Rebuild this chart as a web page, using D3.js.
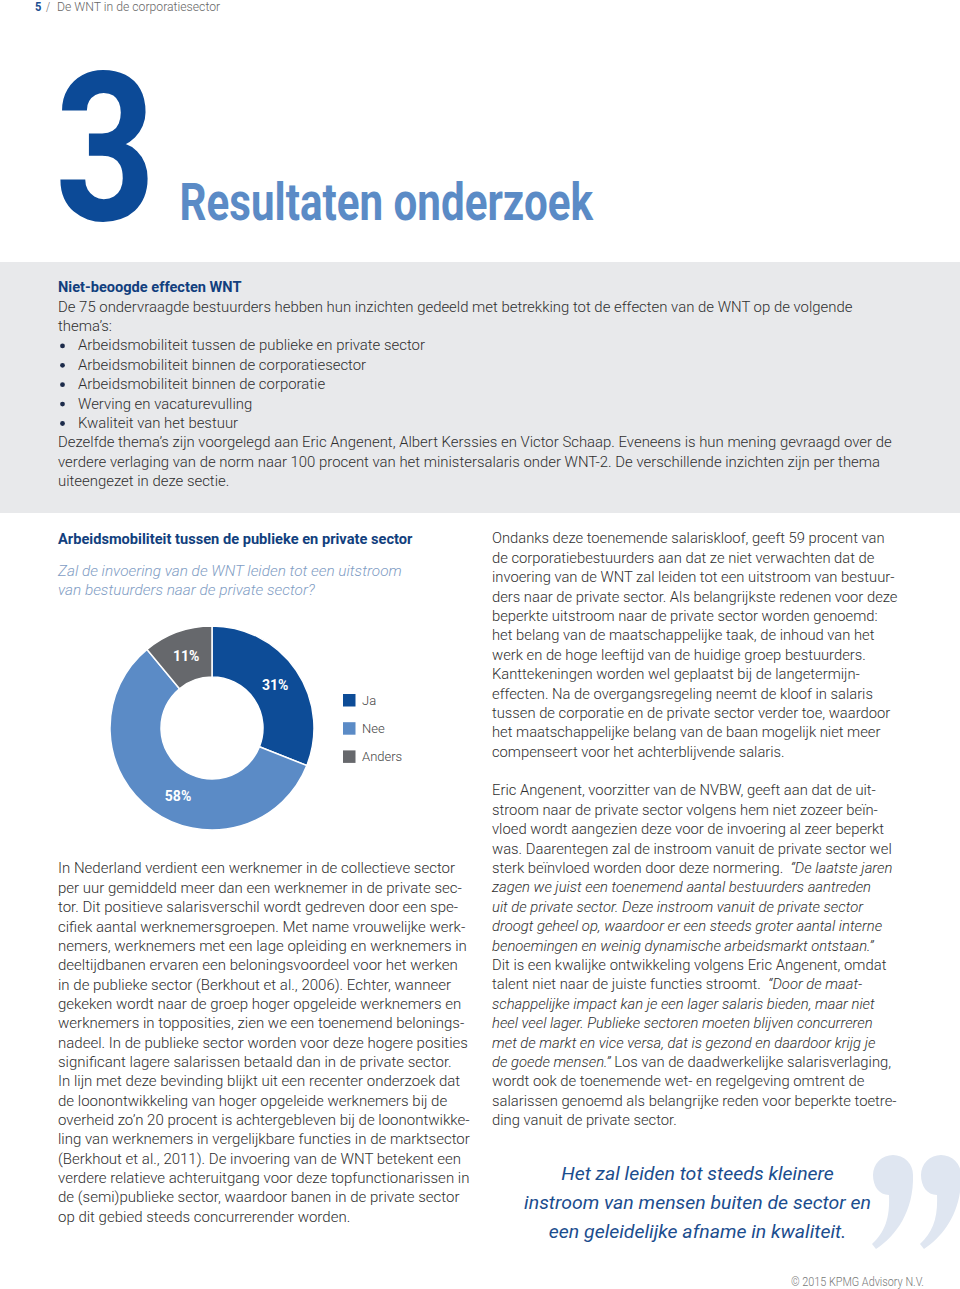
<!DOCTYPE html>
<html>
<head>
<meta charset="utf-8">
<script src="https://cdn.jsdelivr.net/npm/d3@7/dist/d3.min.js"></script>
<style>
html,body{margin:0;padding:0;background:#fff;}
svg{display:block;}
</style>
</head>
<body>
<svg id="page" width="960" height="1289"></svg>
<script>
// ---------- DATA ----------
const categories = ["Ja", "Nee", "Anders"];
const values = [31, 58, 11];
const labels = ["31%", "58%", "11%"];
const sliceColors = ["#0d4c97", "#5b8bc6", "#66686c"];

const headerPage = "5";
const headerTitle = "De WNT in de corporatiesector";
const chapterNumber = "3";
const chapterTitle = "Resultaten onderzoek";

const boxHeading = "Niet-beoogde effecten WNT";
const boxLines = [
  {t: "De 75 ondervraagde bestuurders hebben hun inzichten gedeeld met betrekking tot de effecten van de WNT op de volgende"},
  {t: "thema’s:"},
  {t: "Arbeidsmobiliteit tussen de publieke en private sector", b: true},
  {t: "Arbeidsmobiliteit binnen de corporatiesector", b: true},
  {t: "Arbeidsmobiliteit binnen de corporatie", b: true},
  {t: "Werving en vacaturevulling", b: true},
  {t: "Kwaliteit van het bestuur", b: true},
  {t: "Dezelfde thema’s zijn voorgelegd aan Eric Angenent, Albert Kerssies en Victor Schaap. Eveneens is hun mening gevraagd over de"},
  {t: "verdere verlaging van de norm naar 100 procent van het ministersalaris onder WNT-2. De verschillende inzichten zijn per thema"},
  {t: "uiteengezet in deze sectie."}
];

const chartHeading = "Arbeidsmobiliteit tussen de publieke en private sector";
const chartQuestion = [
  "Zal de invoering van de WNT leiden tot een uitstroom",
  "van bestuurders naar de private sector?"
];

const leftPara = [
  "In Nederland verdient een werknemer in de collectieve sector",
  "per uur gemiddeld meer dan een werknemer in de private sec-",
  "tor. Dit positieve salarisverschil wordt gedreven door een spe-",
  "cifiek aantal werknemersgroepen. Met name vrouwelijke werk-",
  "nemers, werknemers met een lage opleiding en werknemers in",
  "deeltijdbanen ervaren een beloningsvoordeel voor het werken",
  "in de publieke sector (Berkhout et al., 2006). Echter, wanneer",
  "gekeken wordt naar de groep hoger opgeleide werknemers en",
  "werknemers in topposities, zien we een toenemend belonings-",
  "nadeel. In de publieke sector worden voor deze hogere posities",
  "significant lagere salarissen betaald dan in de private sector.",
  "In lijn met deze bevinding blijkt uit een recenter onderzoek dat",
  "de loonontwikkeling van hoger opgeleide werknemers bij de",
  "overheid zo’n 20 procent is achtergebleven bij de loonontwikke-",
  "ling van werknemers in vergelijkbare functies in de marktsector",
  "(Berkhout et al., 2011). De invoering van de WNT betekent een",
  "verdere relatieve achteruitgang voor deze topfunctionarissen in",
  "de (semi)publieke sector, waardoor banen in de private sector",
  "op dit gebied steeds concurrerender worden."
];

const rightPara1 = [
  "Ondanks deze toenemende salariskloof, geeft 59 procent van",
  "de corporatiebestuurders aan dat ze niet verwachten dat de",
  "invoering van de WNT zal leiden tot een uitstroom van bestuur-",
  "ders naar de private sector. Als belangrijkste redenen voor deze",
  "beperkte uitstroom naar de private sector worden genoemd:",
  "het belang van de maatschappelijke taak, de inhoud van het",
  "werk en de hoge leeftijd van de huidige groep bestuurders.",
  "Kanttekeningen worden wel geplaatst bij de langetermijn-",
  "effecten. Na de overgangsregeling neemt de kloof in salaris",
  "tussen de corporatie en de private sector verder toe, waardoor",
  "het maatschappelijke belang van de baan mogelijk niet meer",
  "compenseert voor het achterblijvende salaris."
];

// each line: list of [text, italic]
const rightPara2 = [
  [["Eric Angenent, voorzitter van de NVBW, geeft aan dat de uit-", 0]],
  [["stroom naar de private sector volgens hem niet zozeer beïn-", 0]],
  [["vloed wordt aangezien deze voor de invoering al zeer beperkt", 0]],
  [["was. Daarentegen zal de instroom vanuit de private sector wel", 0]],
  [["sterk beïnvloed worden door deze normering. ", 0], [" “De laatste jaren", 1]],
  [["zagen we juist een toenemend aantal bestuurders aantreden", 1]],
  [["uit de private sector. Deze instroom vanuit de private sector", 1]],
  [["droogt geheel op, waardoor er een steeds groter aantal interne", 1]],
  [["benoemingen en weinig dynamische arbeidsmarkt ontstaan.”", 1]],
  [["Dit is een kwalijke ontwikkeling volgens Eric Angenent, omdat", 0]],
  [["talent niet naar de juiste functies stroomt. ", 0], [" “Door de maat-", 1]],
  [["schappelijke impact kan je een lager salaris bieden, maar niet", 1]],
  [["heel veel lager. Publieke sectoren moeten blijven concurreren", 1]],
  [["met de markt en vice versa, dat is gezond en daardoor krijg je", 1]],
  [["de goede mensen.”", 1], [" Los van de daadwerkelijke salarisverlaging,", 0]],
  [["wordt ook de toenemende wet- en regelgeving omtrent de", 0]],
  [["salarissen genoemd als belangrijke reden voor beperkte toetre-", 0]],
  [["ding vanuit de private sector.", 0]]
];

const quoteLines = [
  "Het zal leiden tot steeds kleinere",
  "instroom van mensen buiten de sector en",
  "een geleidelijke afname in kwaliteit."
];
const footerText = "© 2015 KPMG Advisory N.V.";

// ---------- DRAW ----------
const svg = d3.select("#page");
const FONT = "Roboto, 'Liberation Sans', Arial, sans-serif";

// helper: scale a group horizontally so that element 'ref' has width 'w'
function fitGroup(g, ref, x, w) {
  const len = ref.node().getComputedTextLength();
  const s = w / len;
  g.attr("transform", `translate(${x},0) scale(${s},1)`);
  return s;
}

// ink fit using canvas metrics
const cv = document.createElement("canvas").getContext("2d");
function inkFit(text, weight, style, size, x0, x1, baseline, color, parent) {
  cv.font = `${style} ${weight} ${size}px Roboto`;
  const m = cv.measureText(text);
  const inkW = m.actualBoundingBoxRight + m.actualBoundingBoxLeft;
  const s = (x1 - x0) / inkW;
  const tx = x0 + m.actualBoundingBoxLeft * s;
  parent.append("text")
    .attr("transform", `translate(${tx},${baseline}) scale(${s},1)`)
    .attr("font-family", FONT).attr("font-weight", weight).attr("font-style", style)
    .attr("font-size", size).attr("fill", color).text(text);
}

// header
inkFit(headerPage, 700, "normal", 13, 35, 41, 11, "#1d4f91", svg);
inkFit("/", 300, "normal", 13, 46, 50, 11, "#666", svg);
inkFit(headerTitle, 300, "normal", 13, 58, 221, 11, "#666", svg);

// chapter number and title
inkFit(chapterNumber, 700, "normal", 208, 60, 148, 220, "#0c4a97", svg);
inkFit(chapterTitle, 700, "normal", 52, 182, 594, 220, "#5b8bc6", svg);

// grey box
svg.append("rect").attr("x", 0).attr("y", 262).attr("width", 960).attr("height", 251).attr("fill", "#e8e9eb");
inkFit(boxHeading, 700, "normal", 15.5, 58, 242, 292, "#123f7e", svg);

{
  const g = svg.append("g");
  let ref;
  const texts = [];
  boxLines.forEach((l, i) => {
    const y = 311.7 + i * 19.4;
    const t = g.append("text").attr("x", 0).attr("y", y)
      .attr("font-family", FONT).attr("font-weight", 300).attr("font-size", 13.8)
      .attr("fill", "#2f2f2f").text(l.t);
    texts.push(t);
    if (i === 0) ref = t;
  });
  const s = fitGroup(g, ref, 58, 795);
  boxLines.forEach((l, i) => {
    if (l.b) {
      texts[i].attr("x", 20 / s);
      svg.append("circle").attr("cx", 62.5).attr("cy", 311.7 + i * 19.4 - 4.6).attr("r", 2.4).attr("fill", "#1c2b4a");
    }
  });
}

// chart heading + question
inkFit(chartHeading, 700, "normal", 15.5, 58, 413, 544, "#123f7e", svg);
{
  const g = svg.append("g");
  let ref;
  chartQuestion.forEach((l, i) => {
    const t = g.append("text").attr("x", 0).attr("y", 576 + i * 19.4)
      .attr("font-family", FONT).attr("font-weight", 300).attr("font-style", "italic")
      .attr("font-size", 14.5).attr("fill", "#7f9dc4").text(l);
    if (i === 0) ref = t;
  });
  fitGroup(g, ref, 58, 344);
}

// donut
{
  const cx = 212, cy = 728;
  const pie = d3.pie().sort(null).value(d => d).startAngle(0).endAngle(2 * Math.PI);
  const arcs = pie(values);
  const arc = d3.arc().innerRadius(51).outerRadius(102);
  const labelNudge = [[0, 0], [11, 6], [0, 0]];
  const g = svg.append("g").attr("transform", `translate(${cx},${cy})`);
  g.selectAll("path").data(arcs).join("path")
    .attr("d", arc)
    .attr("fill", (d, i) => sliceColors[i])
    .attr("stroke", "#fff").attr("stroke-width", 1.5);
  g.selectAll("text").data(arcs).join("text")
    .attr("x", (d, i) => arc.centroid(d)[0] + labelNudge[i][0])
    .attr("y", (d, i) => arc.centroid(d)[1] + labelNudge[i][1])
    .attr("dy", "0.36em")
    .attr("text-anchor", "middle")
    .attr("font-family", FONT).attr("font-weight", 700).attr("font-size", 14)
    .attr("fill", "#fff")
    .text((d, i) => labels[i]);

  // legend
  const lg = svg.append("g").attr("transform", "translate(343,694)");
  const item = lg.selectAll("g").data(categories).join("g")
    .attr("transform", (d, i) => `translate(0,${i * 28.2})`);
  item.append("rect").attr("width", 12.5).attr("height", 12.5)
    .attr("fill", (d, i) => sliceColors[i]);
  item.append("text").attr("x", 19).attr("y", 11)
    .attr("font-family", FONT).attr("font-weight", 300).attr("font-size", 13)
    .attr("fill", "#444").text(d => d);
}

// left paragraph
{
  const g = svg.append("g");
  let ref;
  leftPara.forEach((l, i) => {
    const t = g.append("text").attr("x", 0).attr("y", 873.5 + i * 19.35)
      .attr("font-family", FONT).attr("font-weight", 300).attr("font-size", 14.3)
      .attr("fill", "#2f2f2f").text(l);
    if (i === 4) ref = t;
  });
  fitGroup(g, ref, 58, 409);
}

// right paragraph 1
{
  const g = svg.append("g");
  let ref;
  rightPara1.forEach((l, i) => {
    const t = g.append("text").attr("x", 0).attr("y", 543.5 + i * 19.4)
      .attr("font-family", FONT).attr("font-weight", 300).attr("font-size", 14.3)
      .attr("fill", "#2f2f2f").text(l);
    if (i === 3) ref = t;
  });
  fitGroup(g, ref, 492, 406);
}

// right paragraph 2
{
  const g = svg.append("g");
  let ref;
  rightPara2.forEach((segs, i) => {
    const t = g.append("text").attr("x", 0).attr("y", 795.5 + i * 19.4)
      .attr("font-family", FONT).attr("font-weight", 300).attr("font-size", 14.3)
      .attr("fill", "#2f2f2f").attr("xml:space", "preserve");
    segs.forEach(s => {
      t.append("tspan").attr("font-style", s[1] ? "italic" : "normal").text(s[0]);
    });
    if (i === 3) ref = t;
  });
  fitGroup(g, ref, 492, 400);
}

// big quote marks (decorative)
{
  const comma = "M -20,0 A 20 20 0 0 1 20,0 C 21,36 3,61 -17,74 L -21,69 C -8,57 -3,43 -4,20 C -14,20 -20,11 -20,0 Z";
  [[893, 1175], [941, 1175]].forEach(p => {
    svg.append("path").attr("transform", `translate(${p[0]},${p[1]})`)
      .attr("d", comma).attr("fill", "#dfe6f1");
  });
}

// pull quote
{
  const g = svg.append("g");
  let ref;
  quoteLines.forEach((l, i) => {
    const t = g.append("text").attr("x", 0).attr("y", 1180 + i * 29)
      .attr("text-anchor", "middle")
      .attr("font-family", FONT).attr("font-weight", 400).attr("font-style", "italic")
      .attr("font-size", 17.5).attr("fill", "#1b4d8e").text(l);
    if (i === 1) ref = t;
  });
  fitGroup(g, ref, 697.5, 347);
}

// footer
inkFit(footerText, 300, "normal", 12.5, 791, 923, 1286, "#777", svg);
</script>
</body>
</html>
